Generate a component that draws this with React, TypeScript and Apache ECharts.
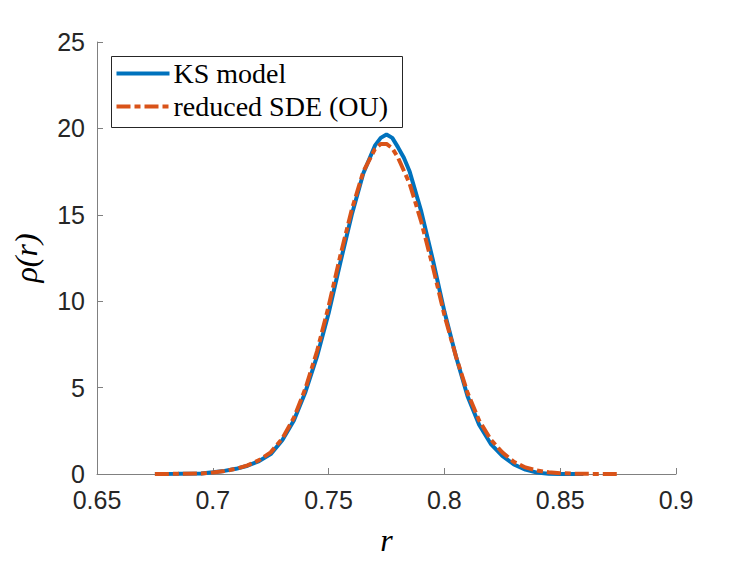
import React, { useEffect, useRef } from "react";
import * as echarts from "echarts";

// KS model density
const rKS = [0.675, 0.685, 0.695, 0.7, 0.705, 0.71, 0.715, 0.72, 0.725, 0.73, 0.735, 0.74, 0.745, 0.75, 0.755, 0.76, 0.765, 0.77, 0.7725, 0.775, 0.7775, 0.78, 0.7825, 0.785, 0.79, 0.795, 0.8, 0.805, 0.81, 0.815, 0.82, 0.825, 0.83, 0.835, 0.84, 0.845, 0.85, 0.855, 0.86];
const vKS = [0.0, 0.01, 0.03, 0.1, 0.18, 0.3, 0.48, 0.75, 1.15, 1.95, 3.1, 4.75, 6.8, 9.3, 12.2, 15.0, 17.4, 19.0, 19.45, 19.65, 19.45, 18.9, 18.3, 17.5, 15.2, 12.4, 9.4, 6.8, 4.5, 2.85, 1.75, 1.05, 0.55, 0.25, 0.08, 0.02, 0.005, 0.0, 0.0];

// reduced SDE (OU) density
const rOU = [0.675, 0.685, 0.695, 0.7, 0.705, 0.71, 0.715, 0.72, 0.725, 0.73, 0.735, 0.74, 0.745, 0.75, 0.755, 0.76, 0.765, 0.77, 0.7725, 0.775, 0.7775, 0.78, 0.785, 0.79, 0.795, 0.8, 0.805, 0.81, 0.815, 0.82, 0.825, 0.83, 0.835, 0.84, 0.845, 0.85, 0.855, 0.86, 0.865, 0.87, 0.875];
const vOU = [0.0, 0.01, 0.03, 0.09, 0.17, 0.3, 0.5, 0.8, 1.25, 2.05, 3.25, 4.95, 7.1, 9.7, 12.6, 15.3, 17.5, 18.8, 19.1, 19.1, 18.85, 18.3, 16.8, 14.6, 12.0, 9.2, 6.8, 4.7, 3.1, 2.0, 1.25, 0.7, 0.38, 0.2, 0.1, 0.05, 0.02, 0.01, 0.005, 0.0, 0.0];

const seriesNames = ["KS model", "reduced SDE (OU)"];
const seriesColors = ["#0072BD", "#D95319"];

const xMin = 0.65, xMax = 0.9, xStep = 0.05;
const yMin = 0, yMax = 25, yStep = 5;

export default function App() {
  const ref = useRef<HTMLDivElement>(null);
  useEffect(() => {
    if (!ref.current) return;
    const chart = echarts.init(ref.current, null, { renderer: "svg" });
    const axisColor = "#808080";
    const labelFont = "'Liberation Sans', Arial, Helvetica, sans-serif";
    const serif = "'Liberation Serif', 'Times New Roman', serif";
    const ouDash = [14, 4, 6, 4];
    chart.setOption({
      animation: false,
      backgroundColor: "#ffffff",
      grid: { left: 97, right: 71, top: 42, bottom: 87, containLabel: false },
      xAxis: {
        type: "value",
        min: xMin,
        max: xMax,
        interval: xStep,
        name: "r",
        nameLocation: "middle",
        nameGap: 50,
        nameTextStyle: { fontFamily: serif, fontStyle: "italic", fontSize: 32, color: "#000" },
        axisLine: { show: true, lineStyle: { color: axisColor, width: 1 } },
        axisTick: { show: true, inside: true, length: 6, lineStyle: { color: axisColor } },
        axisLabel: {
          margin: 13,
          fontFamily: labelFont,
          fontSize: 25,
          color: "#262626",
          formatter: (v: number) => String(parseFloat(v.toFixed(2))),
        },
        splitLine: { show: false },
      },
      yAxis: {
        type: "value",
        min: yMin,
        max: yMax,
        interval: yStep,
        name: "ρ(r)",
        nameLocation: "middle",
        nameGap: 55,
        nameRotate: 90,
        nameTextStyle: { fontFamily: serif, fontStyle: "italic", fontSize: 32, color: "#000" },
        axisLine: { show: true, lineStyle: { color: axisColor, width: 1 } },
        axisTick: { show: true, inside: true, length: 6, lineStyle: { color: axisColor } },
        axisLabel: { margin: 12, fontFamily: labelFont, fontSize: 25, color: "#262626" },
        splitLine: { show: false },
      },
      series: [
        {
          name: seriesNames[0],
          type: "line",
          data: rKS.map((r, i) => [r, vKS[i]]),
          showSymbol: false,
          symbol: "none",
          lineStyle: { color: seriesColors[0], width: 4 },
          z: 2,
        },
        {
          name: seriesNames[1],
          type: "line",
          data: rOU.map((r, i) => [r, vOU[i]]),
          showSymbol: false,
          symbol: "none",
          lineStyle: { color: seriesColors[1], width: 4, type: ouDash },
          z: 3,
        },
      ],
      graphic: [
        {
          type: "group",
          left: 111,
          top: 56,
          z: 100,
          children: [
            {
              type: "rect",
              shape: { x: 0, y: 0, width: 291, height: 71 },
              style: { fill: "#ffffff", stroke: "#262626", lineWidth: 1 },
            },
            {
              type: "line",
              shape: { x1: 5, y1: 17, x2: 58, y2: 17 },
              style: { stroke: seriesColors[0], lineWidth: 4 },
            },
            {
              type: "line",
              shape: { x1: 5, y1: 50, x2: 58, y2: 50 },
              style: { stroke: seriesColors[1], lineWidth: 4, lineDash: ouDash },
            },
            {
              type: "text",
              x: 62,
              y: 17,
              style: { text: seriesNames[0], fontFamily: serif, fontSize: 28, fill: "#000", verticalAlign: "middle", align: "left" },
            },
            {
              type: "text",
              x: 62,
              y: 50,
              style: { text: seriesNames[1], fontFamily: serif, fontSize: 28, fill: "#000", verticalAlign: "middle", align: "left" },
            },
          ],
        },
      ],
    });
    return () => chart.dispose();
  }, []);
  return <div ref={ref} style={{ position: "fixed", left: 0, top: 0, width: 747, height: 561 }} />;
}
